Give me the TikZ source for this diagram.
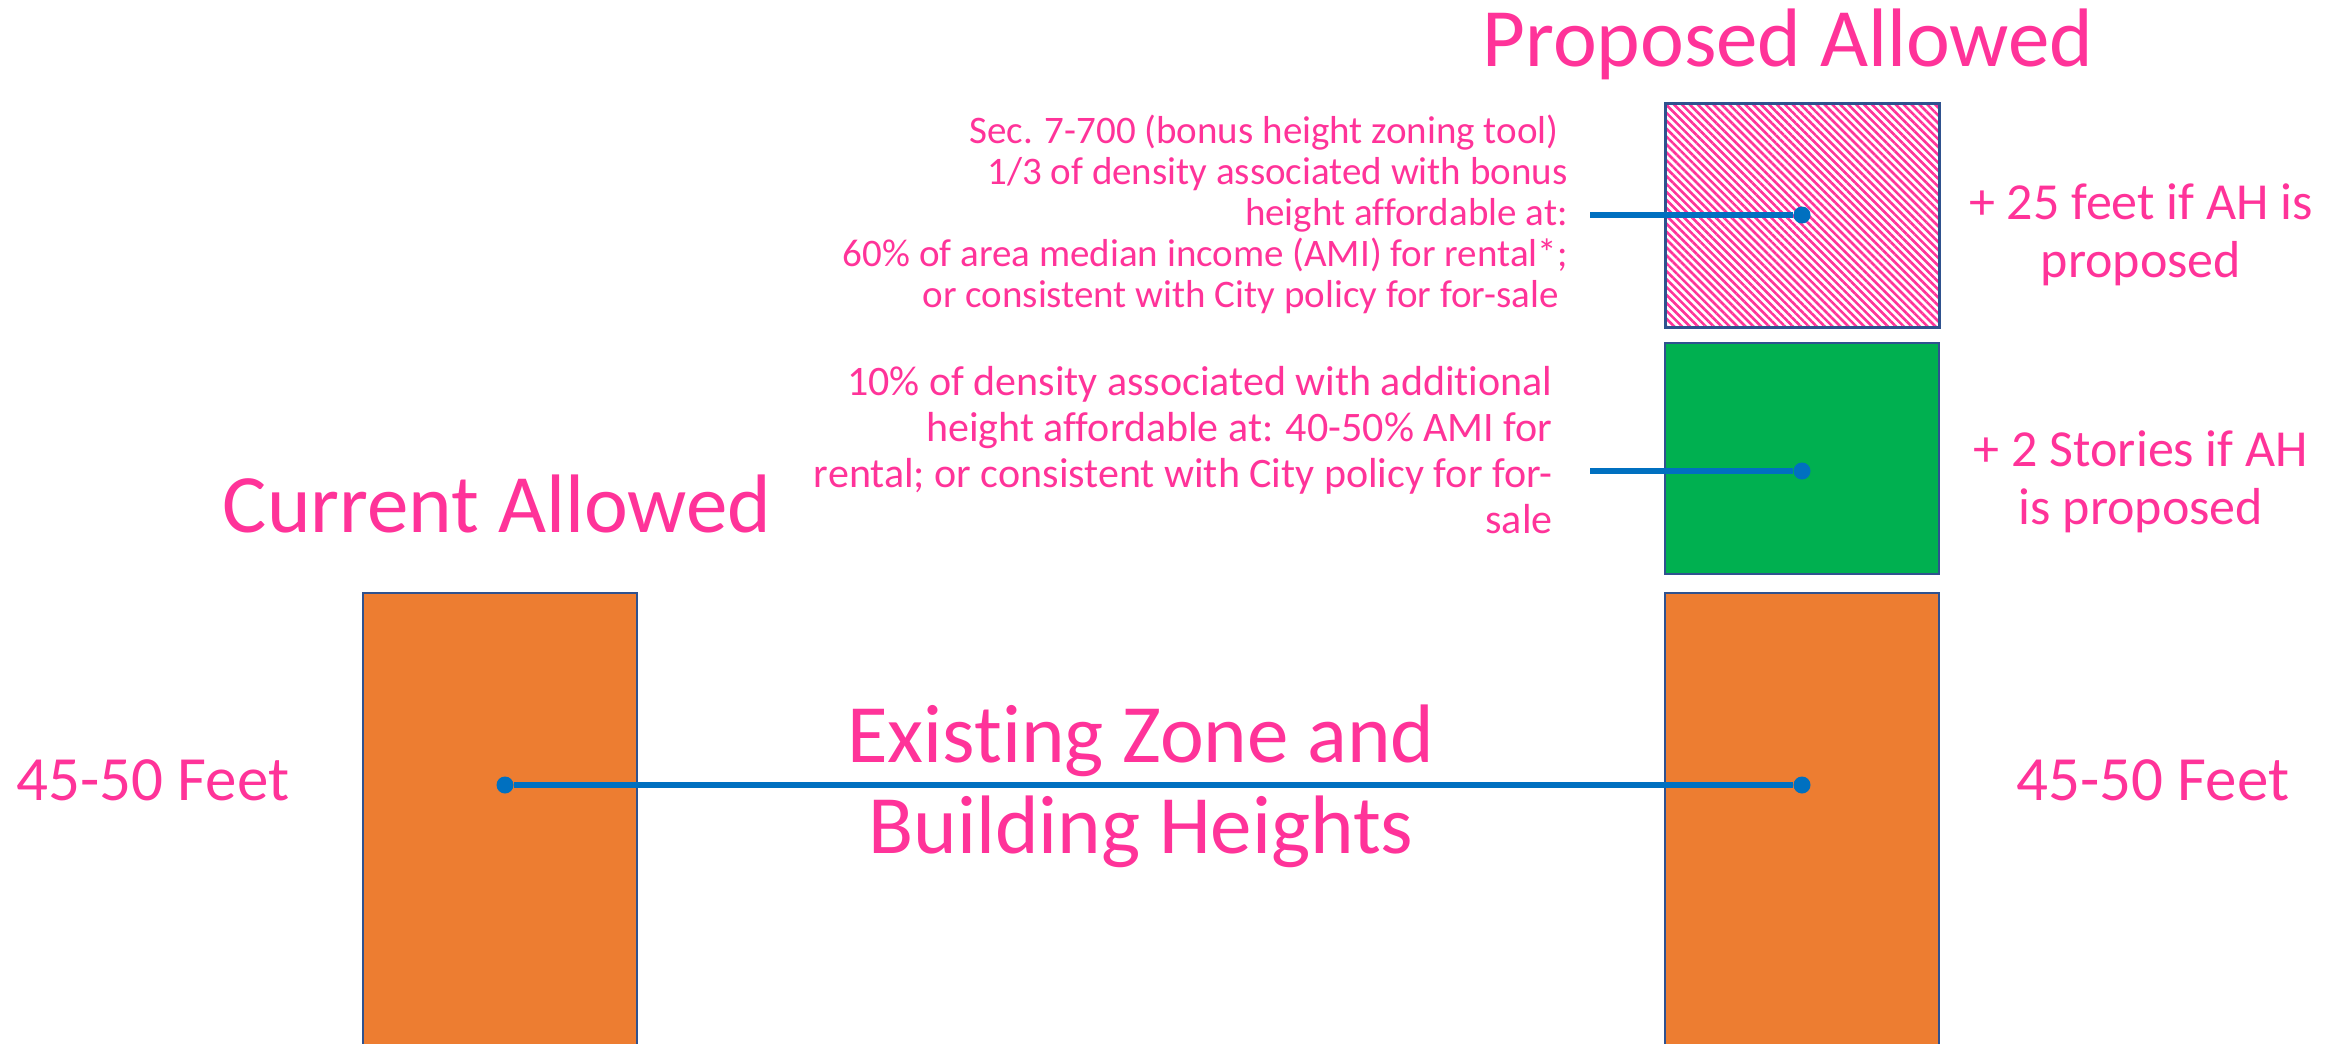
\documentclass[tikz,border=0pt]{standalone}
\usepackage{fontspec}
\setmainfont{Carlito}[Ligatures=NoCommon]
\usetikzlibrary{positioning,patterns.meta}
\definecolor{hotpink}{RGB}{255,51,153}
\definecolor{barorange}{RGB}{237,125,49}
\definecolor{bargreen}{RGB}{0,176,80}
\definecolor{edgeblue}{RGB}{47,82,143}
\definecolor{lineblue}{RGB}{0,112,192}

\begin{document}
\begin{tikzpicture}[x=0.5pt,y=-0.5pt,
		bar/.style={draw=edgeblue,line width=1.2pt,inner sep=0pt,minimum width=137pt,anchor=north west},
		dot/.style={circle,fill=lineblue,inner sep=0pt,minimum size=8.5pt},
		link/.style={draw=lineblue,line width=3pt},
		title/.style={text=hotpink,inner sep=0pt,font=\fontsize{41.5}{45.5}\selectfont},
		feet/.style={text=hotpink,inner sep=0pt,font=\fontsize{31.5}{34}\selectfont},
		side/.style={text=hotpink,inner sep=0pt,align=center,font=\fontsize{26}{29}\selectfont},
		note/.style={text=hotpink,inner sep=0pt,align=right}]
	\clip (0,0) rectangle (2346,1044);

	% bars
	\node[bar,minimum height=112pt,pattern={Lines[angle=-45,distance=2.8pt,line width=1.3pt]},pattern color=hotpink] (bonusbar) at (1664,102) {};
	\node[bar,minimum height=115.5pt,fill=bargreen] (storybar) at (1664,342) {};
	\node[bar,minimum height=240pt,fill=barorange] (newbar) at (1664,592) {};
	\node[bar,minimum height=240pt,fill=barorange] (curbar) at (362,592) {};

	% dots and links
	\node[dot] (bonusdot) at (1802,215) {};
	\node[dot] (storydot) at (1802,471) {};
	\node[dot] (curdot) at (505,785) {};
	\node[dot] (newdot) at (1802,785) {};
	\coordinate (bonusend) at (1590,215);
	\coordinate (storyend) at (1590,471);
	\draw[link] (bonusend) -- (bonusdot);
	\draw[link] (storyend) -- (storydot);
	\draw[link] (curdot) -- (newdot);

	% titles (base = last line)
	\node[title,anchor=base] (proptitle) at (1788,66) {Proposed Allowed};
	\node[title,anchor=base] (curtitle) at (497,532) {Current Allowed};
	\node[title,anchor=base,align=center] (zonetext) at (1141,853) {Existing Zone and\\Building Heights};
	\node[feet,anchor=base] (curfeet) at (153,800) {45-50 Feet};
	\node[feet,anchor=base] (newfeet) at (2153,800) {45-50 Feet};
	\node[side,anchor=base] (bonusnote) at (2141,277) {+ 25 feet if AH is\\proposed};
	\node[side,anchor=base] (storynote) at (2141,524) {+ 2 Stories if AH\\is proposed};

	% notes
	\node[note,anchor=base east,font=\fontsize{19.5}{20.5}\selectfont] (bonustext) at (1568,307)
		{Sec. 7-700 (bonus height zoning tool)\kern.23em\\1/3 of density associated with bonus\\height affordable at:\\60\% of area median income (AMI) for rental*;\\or consistent with City policy for for-sale\kern.23em};
	\node[note,anchor=base east,font=\fontsize{21}{23}\selectfont] (storytext) at (1553,533)
		{10\% of density associated with additional\\height affordable at: 40-50\% AMI for\\rental; or consistent with City policy for for-\\sale};
\end{tikzpicture}
\end{document}
